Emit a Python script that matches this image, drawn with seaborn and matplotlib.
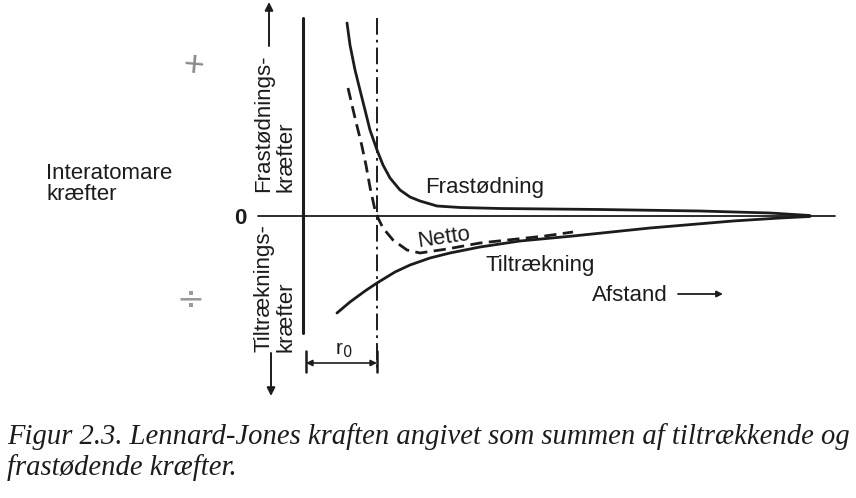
import pandas as pd
import seaborn as sns
from matplotlib import pyplot as plt

# Curves. r is distance in units of r0, f is force (arbitrary units)
frast_r = [0.595, 0.635, 0.703, 0.770, 0.838, 0.905, 1.000, 1.081, 1.176, 1.311,
           1.446, 1.581, 1.811, 2.122, 2.662, 4.014, 5.365, 6.311, 6.851]
frast_f = [1.93, 1.71, 1.46, 1.26, 1.06, 0.86, 0.66, 0.51, 0.38, 0.26,
           0.19, 0.15, 0.10, 0.085, 0.075, 0.065, 0.05, 0.03, 0.005]

netto_r = [0.608, 0.662, 0.716, 0.784, 0.851, 0.905, 0.973, 1.014, 1.081, 1.216,
           1.405, 1.581, 1.946, 2.392, 2.892, 3.270, 3.649]
netto_f = [1.28, 1.11, 0.94, 0.74, 0.51, 0.29, 0.06, -0.02, -0.12, -0.24,
           -0.34, -0.37, -0.33, -0.27, -0.23, -0.20, -0.16]

tilt_r = [0.459, 0.635, 0.838, 1.000, 1.243, 1.446, 1.716, 1.986, 2.392, 2.932,
          3.649, 4.689, 5.811, 6.446, 6.851]
tilt_f = [-0.97, -0.86, -0.75, -0.67, -0.56, -0.49, -0.42, -0.37, -0.31, -0.25,
          -0.20, -0.12, -0.05, -0.02, -0.005]

r0 = 1.0
caption1 = "Figur 2.3. Lennard-Jones kraften angivet som summen af tiltrækkende og"
caption2 = "frastødende kræfter."

sns.set_theme(style='white')
plt.rcParams['font.family'] = ['Liberation Sans', 'DejaVu Sans']
ink = '#1c1c1c'

W, H = 856, 498
fig = plt.figure(figsize=(W / 100, H / 100), dpi=100)
fig.patch.set_facecolor('white')
ax = fig.add_axes([0, 0, 1, 1])
# one data unit in r is 74 px, 0.01 force units is 1 px; zero at (303, 216)
ax.set_xlim(-303 / 74, (W - 303) / 74)
ax.set_ylim((216 - H) / 100, 216 / 100)
ax.axis('off')


def P(x, y):
    # pixel position -> data coords (for labels and guide lines)
    return (x - 303) / 74, (216 - y) / 100


# curves
df_fr = pd.DataFrame({'r': frast_r, 'f': frast_f})
df_ne = pd.DataFrame({'r': netto_r, 'f': netto_f})
df_ti = pd.DataFrame({'r': tilt_r, 'f': tilt_f})
sns.lineplot(data=df_fr, x='r', y='f', sort=False, color=ink, lw=2.0, ax=ax)
sns.lineplot(data=df_ti, x='r', y='f', sort=False, color=ink, lw=2.0, ax=ax)
sns.lineplot(data=df_ne, x='r', y='f', sort=False, color=ink, lw=2.0, ax=ax)
ax.lines[-1].set_dashes([4.4, 2.3])

# axes: vertical line at r=0, zero line, r0 dash-dot
ax.plot([0, 0], [P(0, 18)[1], P(0, 333)[1]], color=ink, lw=2.2)
ax.plot([P(258, 0)[0], P(835, 0)[0]], [0, 0], color=ink, lw=1.3)
dd, = ax.plot([r0, r0], [P(0, 18)[1], P(0, 372)[1]], color=ink, lw=1.4)
dd.set_dashes([8.6, 2.6, 1.4, 2.6])

# r0 dimension
ax.plot([P(306, 0)[0]] * 2, [P(0, 351)[1], P(0, 372)[1]], color=ink, lw=1.8)
ax.plot([r0] * 2, [P(0, 351)[1], P(0, 372)[1]], color=ink, lw=1.8)
ax.annotate('', xy=P(306, 363), xytext=P(377, 363),
            arrowprops=dict(arrowstyle='<|-|>', color=ink, lw=1.2,
                            mutation_scale=9, shrinkA=0, shrinkB=0))
ax.text(*P(344, 350), r'r$_0$', fontsize=15, color=ink, ha='center', va='center')

# up / down arrows
ax.annotate('', xy=P(269, 2), xytext=P(269, 46),
            arrowprops=dict(arrowstyle='-|>', color=ink, lw=1.4,
                            mutation_scale=12, shrinkA=0, shrinkB=0))
ax.annotate('', xy=P(271, 396), xytext=P(271, 353),
            arrowprops=dict(arrowstyle='-|>', color=ink, lw=1.4,
                            mutation_scale=12, shrinkA=0, shrinkB=0))

# labels
ax.text(*P(275, 192), 'Frastødnings-\nkræfter', rotation=90, fontsize=16, color=ink,
        ha='center', va='bottom', multialignment='left', linespacing=1.05)
ax.text(*P(275, 352), 'Tiltræknings-\nkræfter', rotation=90, fontsize=16, color=ink,
        ha='center', va='bottom', multialignment='left', linespacing=1.05)
ax.text(*P(46, 184), 'Interatomare\nkræfter', fontsize=16, color=ink,
        ha='left', va='center', linespacing=0.95)
ax.text(*P(240, 218), '0', fontsize=16, fontweight='bold', color=ink,
        ha='center', va='center')
ax.text(*P(425, 187), 'Frastødning', fontsize=16, color=ink, ha='left', va='center')
ax.text(*P(444, 238), 'Netto', fontsize=16, color=ink, ha='center', va='center',
        rotation=8)
ax.text(*P(540, 265), 'Tiltrækning', fontsize=16, color=ink, ha='center', va='center')
ax.text(*P(630, 295), 'Afstand', fontsize=16, color=ink, ha='center', va='center')
ax.annotate('', xy=P(723, 294), xytext=P(678, 294),
            arrowprops=dict(arrowstyle='-|>', color=ink, lw=1.3,
                            mutation_scale=9, shrinkA=0, shrinkB=0))

# pencil marks
ax.text(*P(193, 66), '+', fontsize=26, color='#8a8a8a', ha='center', va='center',
        rotation=-5)
ax.text(*P(190, 300), '÷', fontsize=24, color='#9a9a9a', ha='center', va='center',
        family=['DejaVu Sans'])

# caption, italic serif, fitted to the reference width
cap_kw = dict(fontsize=20, style='italic', color=ink, family=['Liberation Serif'],
              ha='left', va='center')
t1 = ax.text(*P(7, 437), caption1, **cap_kw)
t2 = ax.text(*P(7, 468), caption2, **cap_kw)
fig.canvas.draw()
w = t1.get_window_extent().width
fs = 20 * 841 / w
t1.set_fontsize(fs)
t2.set_fontsize(fs)

fig.savefig('out.png', dpi=100, facecolor='white')
